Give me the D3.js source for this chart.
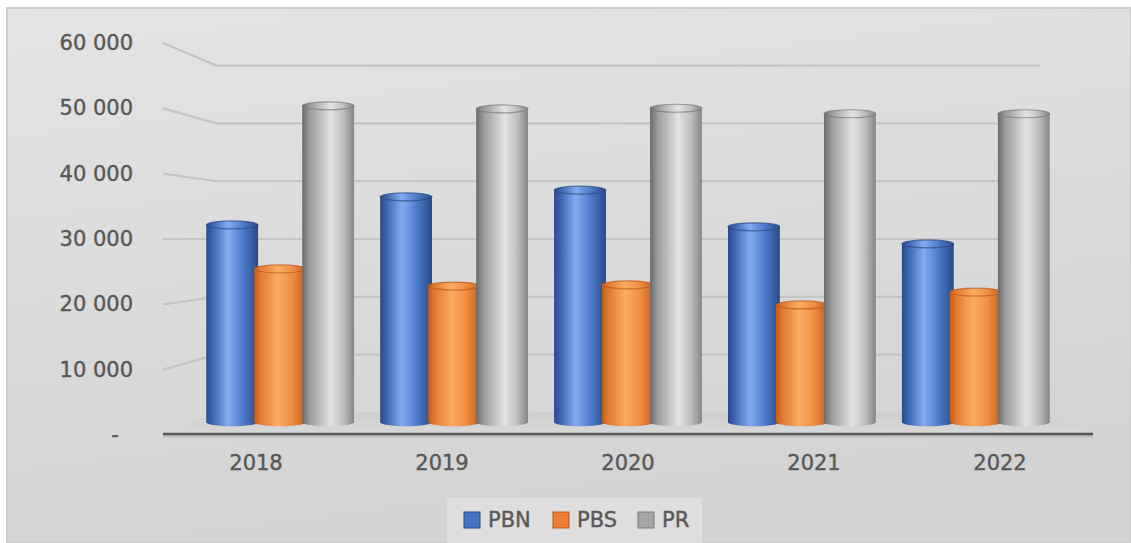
<!DOCTYPE html>
<html><head><meta charset="utf-8">
<script src="https://cdn.jsdelivr.net/npm/d3@7"></script>
<style>html,body{margin:0;padding:0;background:#fff;} svg{display:block}</style>
</head><body><svg id="c" width="1131" height="543"></svg>
<script>
// ---- data ----
const categories = ["2018", "2019", "2020", "2021", "2022"];
const seriesNames = ["PBN", "PBS", "PR"];
const PBN = [32300, 36900, 38000, 32000, 29200];
const PBS = [25100, 22300, 22500, 19200, 21300];
const PR  = [51800, 51300, 51400, 50500, 50500];
const yTicks = [0, 10000, 20000, 30000, 40000, 50000, 60000];
const yTickLabels = ["-", "10 000", "20 000", "30 000", "40 000", "50 000", "60 000"];

const seriesValues = {PBN: PBN, PBS: PBS, PR: PR};
const W = 1131, H = 543;
const svg = d3.select("#c");
const defs = svg.append("defs");

// background
const bg = defs.append("linearGradient").attr("id", "bg").attr("x1", 0).attr("y1", 0).attr("x2", 0.25).attr("y2", 1);
bg.append("stop").attr("offset", 0).attr("stop-color", "#e4e4e4");
bg.append("stop").attr("offset", 1).attr("stop-color", "#d3d3d3");
svg.append("rect").attr("x", 7).attr("y", 8).attr("width", W - 7).attr("height", H - 8)
  .attr("fill", "url(#bg)").attr("stroke", "#cdcdcd").attr("stroke-width", 2);

// gradients for cylinders
const grads = {
  PBN: [[0, "#2a4b88"], [0.12, "#3b64b0"], [0.42, "#84abf0"], [0.72, "#4b79ca"], [1, "#2a4a86"]],
  PBS: [[0, "#bf5d1a"], [0.12, "#e27930"], [0.45, "#fbad64"], [0.75, "#ef8b3f"], [1, "#c25e1b"]],
  PR:  [[0, "#6a6a6a"], [0.15, "#9c9c9c"], [0.55, "#e3e3e3"], [0.8, "#bcbcbc"], [1, "#858585"]]
};
const legendColors = {PBN: "#4472c4", PBS: "#ed7d31", PR: "#a5a5a5"};
const rimColors = {PBN: "#2b4a80", PBS: "#b85a1c", PR: "#7a7a7a"};
Object.keys(grads).forEach(k => {
  const g = defs.append("linearGradient").attr("id", "g" + k).attr("x1", 0).attr("x2", 1).attr("y1", 0).attr("y2", 0);
  grads[k].forEach(s => g.append("stop").attr("offset", s[0]).attr("stop-color", s[1]));
});

// ---- scales (front plane) + simple perspective ----
const x = d3.scaleBand().domain(categories).range([163, 1093]);
const x1 = d3.scaleBand().domain(seriesNames).range([-77, 77]);
const y = d3.scaleLinear().domain([0, 60000]).range([435, 43]);
const VX = 628, VY = 239, KBACK = 0.885, KBAR = 0.935;
const px = (X, k) => VX + (X - VX) * k;
const py = (Y, k) => VY + (Y - VY) * k;

// floor
const fx0 = x.range()[0], fx1 = x.range()[1], fy = y(0);
const fg = defs.append("linearGradient").attr("id", "floor").attr("x1", 0).attr("x2", 0).attr("y1", 0).attr("y2", 1);
fg.append("stop").attr("offset", 0).attr("stop-color", "#cdcdcd");
fg.append("stop").attr("offset", 1).attr("stop-color", "#d9d9d9");
svg.append("path")
  .attr("d", d3.line()([[fx0, fy], [fx1, fy], [px(fx1, KBACK), py(fy, KBACK)], [px(fx0, KBACK), py(fy, KBACK)]]) + "Z")
  .attr("fill", "url(#floor)");

// gridlines (back wall + left side wall)
const grid = svg.append("g").attr("fill", "none").attr("stroke", "#c4c4c4").attr("stroke-width", 2.2);
yTicks.filter(v => v > 0).forEach(v => {
  const yb = py(y(v), KBACK);
  grid.append("path").attr("d", d3.line()([[fx0, y(v)], [px(fx0, KBACK), yb], [px(fx1, KBACK), yb]]));
});

// front floor edge
svg.append("line").attr("x1", fx0).attr("x2", fx1).attr("y1", fy + 1).attr("y2", fy + 1)
  .attr("stroke", "#bdbdbd").attr("stroke-width", 3);
svg.append("line").attr("x1", fx0).attr("x2", fx1).attr("y1", fy - 1).attr("y2", fy - 1)
  .attr("stroke", "#575757").attr("stroke-width", 2.5);

// cylinders
const RY = 4;
const bars = svg.append("g");
categories.forEach((c, i) => {
  seriesNames.forEach(s => {
    const v = seriesValues[s][i];
    const cxF = x(c) + x.bandwidth() / 2 + x1(s) + x1.bandwidth() / 2;
    const cx = px(cxF, KBAR);
    const w = x1.bandwidth() * KBAR * 1.08;
    const yTop = py(y(v), KBAR), yBot = py(y(0), KBAR);
    const g = bars.append("g");
    g.append("ellipse").attr("cx", cx).attr("cy", yBot).attr("rx", w / 2).attr("ry", RY).attr("fill", "url(#g" + s + ")");
    g.append("rect").attr("x", cx - w / 2).attr("y", yTop).attr("width", w).attr("height", yBot - yTop).attr("fill", "url(#g" + s + ")");
    g.append("ellipse").attr("cx", cx).attr("cy", yTop).attr("rx", w / 2).attr("ry", RY)
      .attr("fill", "url(#g" + s + ")").attr("stroke", rimColors[s]).attr("stroke-width", 1.2).attr("stroke-opacity", 0.7);
  });
});

// y labels
const txt = "#585858";
svg.append("g").selectAll("text").data(yTicks).join("text")
  .attr("x", d => d === 0 ? 115 : 133)
  .attr("y", d => y(d))
  .attr("text-anchor", d => d === 0 ? "middle" : "end")
  .attr("dominant-baseline", "central")
  .attr("font-family", "DejaVu Sans").attr("font-size", 21).attr("fill", txt)
  .attr("stroke", txt).attr("stroke-width", 0.4)
  .text((d, i) => yTickLabels[i]);

// x labels
svg.append("g").selectAll("text").data(categories).join("text")
  .attr("x", d => x(d) + x.bandwidth() / 2)
  .attr("y", 463)
  .attr("text-anchor", "middle").attr("dominant-baseline", "central")
  .attr("font-family", "DejaVu Sans").attr("font-size", 21).attr("fill", txt)
  .attr("stroke", txt).attr("stroke-width", 0.4)
  .text(d => d);

// legend
const lg = svg.append("g");
lg.append("rect").attr("x", 447).attr("y", 498).attr("width", 255).attr("height", 45).attr("fill", "#dedede");
const lx = [464, 553, 638];
seriesNames.forEach((s, i) => {
  lg.append("rect").attr("x", lx[i]).attr("y", 512).attr("width", 16).attr("height", 16)
    .attr("fill", legendColors[s]).attr("stroke", rimColors[s]).attr("stroke-width", 1);
  lg.append("text").attr("x", lx[i] + 24).attr("y", 520).attr("dominant-baseline", "central")
    .attr("font-family", "DejaVu Sans").attr("font-size", 21).attr("fill", txt)
    .attr("stroke", txt).attr("stroke-width", 0.4).text(s);
});
</script></body></html>
